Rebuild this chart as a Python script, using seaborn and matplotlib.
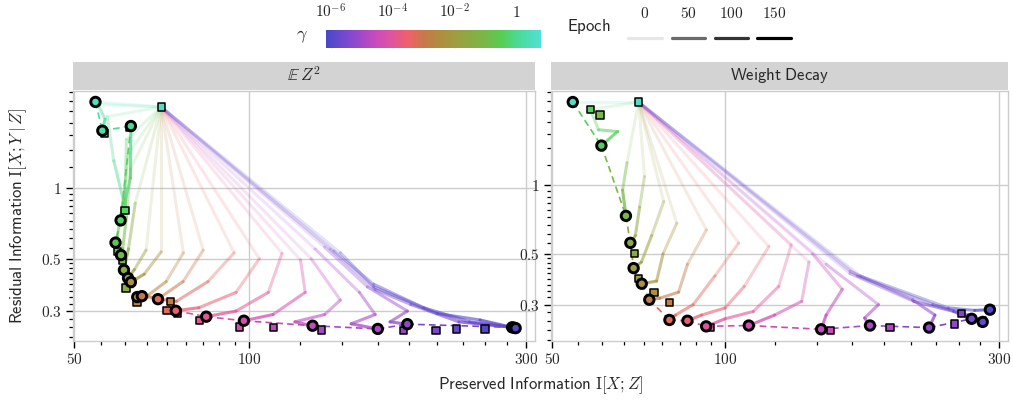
import numpy as np
import matplotlib
matplotlib.use("Agg")
import matplotlib.pyplot as plt
import seaborn as sns
from matplotlib.colors import LinearSegmentedColormap, Normalize, LogNorm
from matplotlib.ticker import FixedLocator, FixedFormatter, NullFormatter
from matplotlib.patches import Rectangle
from matplotlib.lines import Line2D
import matplotlib.cm as mcm

# ---------------- colour scale for log10(gamma) ----------------
CMAP_POS = [-6.15, -5.5, -5.0, -4.5, -4.0, -3.5, -3.0, -2.5, -2.0, -1.0, -0.5, 0.0, 0.8]
CMAP_COL = ['#4848c8', '#7a48d0', '#a448c8', '#cc4cbc', '#e0559a', '#f0606a',
            '#c8784a', '#b08c40', '#a09c40', '#78b848', '#58cc50', '#4cd890', '#50e0d8']
CBAR_TICKS = [1e-6, 1e-4, 1e-2, 1.0]
CBAR_LABELS = [r'$10^{-6}$', r'$10^{-4}$', r'$10^{-2}$', r'$1$']

EPOCH_LABELS = ['0', '50', '100', '150']
EPOCH_GRAYS = ['#e6e6e6', '#6b6b6b', '#333333', '#000000']

X_MAJOR = [50, 100, 300]
X_LABELS = ['50', '100', '300']
Y_MAJOR = [0.1, 0.3, 0.5, 1, 3]
Y_LABELS = ['0.1', '0.3', '0.5', '1', '3']

# ---------------- panel 1: E Z^2 ----------------
EZ2_GAMMA = [0.55, 0.25, 0.0, -0.35, -0.65, -0.95, -1.35, -1.8, -2.3, -2.7, -3.0,
             -3.3, -3.6, -3.95, -4.3, -4.65, -4.95, -5.25, -5.5, -5.75, -6.0]
EZ2_END_X = [54.4, 55.9, 62.6, 60.1, 58.9, 60.2, 60.9, 61.9, 62.6, 64.2, 65.4,
             69.7, 74.8, 84.4, 98.0, 128.7, 166.7, 187.4, 284.0, 286.3, 288.0]
EZ2_END_Y = [2.31, 1.745, 1.826, 0.727, 0.585, 0.518, 0.448, 0.414, 0.398, 0.344, 0.347,
             0.337, 0.301, 0.284, 0.273, 0.26, 0.252, 0.264, 0.256, 0.255, 0.254]
EZ2_SQ_X = [70.6, 56.4, 62.3, 61.2, 59.3, 60.6, 61.4, 62.0, 62.8, 64.1, 73.2,
            72.2, 75.4, 82.2, 96.3, 110.3, 133.3, 184.8, 210.0, 228.0, 255.0]
EZ2_SQ_Y = [2.20, 1.70, 1.80, 0.799, 0.535, 0.494, 0.376, 0.41, 0.40, 0.327, 0.329,
            0.301, 0.294, 0.273, 0.257, 0.256, 0.249, 0.248, 0.248, 0.252, 0.252]
EZ2_PATH_X = [
    [70.6, 54.4],
    [70.6, 55.0, 56.5, 55.9],
    [70.6, 57.0, 58.5, 61.0, 62.5, 62.6],
    [70.6, 61.5, 61.2, 61.3, 60.1],
    [70.6, 62.0, 60.8, 59.3, 58.9],
    [70.6, 62.5, 61.5, 60.6, 60.2],
    [70.6, 63.7, 62.0, 60.9],
    [70.6, 66.5, 63.5, 61.9],
    [70.6, 70.6, 66.0, 62.6],
    [70.6, 77.1, 72.0, 67.0, 64.2],
    [70.6, 83.4, 77.0, 70.0, 65.4],
    [70.6, 94.3, 85.0, 75.0, 69.7],
    [70.6, 104.2, 95.0, 82.0, 74.8],
    [70.6, 114.0, 108.0, 95.0, 84.4],
    [70.6, 122.7, 125.0, 110.0, 98.0],
    [70.6, 128.0, 143.7, 135.0, 120.0, 128.7],
    [70.6, 130.0, 155.0, 165.0, 150.0, 166.7],
    [70.6, 135.0, 160.0, 187.5, 175.0, 187.4],
    [70.6, 138.0, 165.0, 190.0, 230.0, 284.0],
    [70.6, 140.0, 164.0, 200.0, 240.0, 286.3],
    [70.6, 143.7, 164.0, 211.0, 250.0, 288.0],
]
EZ2_PATH_Y = [
    [2.20, 2.31],
    [2.20, 2.25, 1.95, 1.745],
    [2.20, 2.0, 1.3, 0.85, 1.1, 1.826],
    [2.20, 1.6, 1.0, 0.82, 0.727],
    [2.20, 1.4, 0.9, 0.62, 0.585],
    [2.20, 1.2, 0.75, 0.55, 0.518],
    [2.20, 0.86, 0.55, 0.448],
    [2.20, 0.544, 0.45, 0.414],
    [2.20, 0.535, 0.43, 0.398],
    [2.20, 0.53, 0.40, 0.35, 0.344],
    [2.20, 0.544, 0.40, 0.34, 0.347],
    [2.20, 0.53, 0.40, 0.33, 0.337],
    [2.20, 0.50, 0.36, 0.31, 0.301],
    [2.20, 0.527, 0.36, 0.30, 0.284],
    [2.20, 0.494, 0.36, 0.29, 0.273],
    [2.20, 0.50, 0.334, 0.29, 0.27, 0.26],
    [2.20, 0.55, 0.36, 0.29, 0.265, 0.252],
    [2.20, 0.56, 0.38, 0.30, 0.27, 0.264],
    [2.20, 0.55, 0.37, 0.32, 0.27, 0.256],
    [2.20, 0.54, 0.39, 0.31, 0.27, 0.255],
    [2.20, 0.53, 0.38, 0.293, 0.275, 0.254],
]

# ---------------- panel 2: Weight Decay ----------------
WD_GAMMA = [0.55, -0.4, -1.0, -1.5, -1.9, -2.4, -2.9, -3.3, -3.6, -4.0, -4.35,
            -4.6, -4.9, -5.2, -5.5, -5.75, -6.0]
WD_END_X = [54.3, 60.9, 67.2, 68.4, 69.3, 71.6, 73.8, 80.0, 86.0, 92.7, 110.0,
            147.0, 178.8, 226.6, 268.8, 281.0, 289.2]
WD_END_Y = [2.30, 1.484, 0.732, 0.558, 0.433, 0.37, 0.315, 0.257, 0.255, 0.241, 0.243,
            0.234, 0.243, 0.238, 0.26, 0.252, 0.285]
WD_SQ_X = [70.7, 58.3, 60.6, 69.5, 70.7, 75.2, 80.1, 80.0, 86.0, 94.1, 110.0,
           152.6, 193.7, 251.0, 258.3, 281.0, 289.2]
WD_SQ_Y = [2.30, 2.13, 2.02, 0.50, 0.389, 0.339, 0.307, 0.257, 0.255, 0.238, 0.243,
           0.231, 0.239, 0.247, 0.275, 0.252, 0.285]
WD_PATH_X = [
    [70.7, 54.3],
    [70.7, 58.3, 60.2, 65.0, 60.9],
    [70.7, 67.5, 66.3, 67.2],
    [70.7, 72.4, 71.0, 69.8, 68.4],
    [70.7, 78.2, 74.5, 71.5, 69.3],
    [70.7, 82.4, 78.0, 76.0, 71.6],
    [70.7, 92.8, 86.0, 83.0, 77.0, 73.8],
    [70.7, 105.6, 96.0, 88.0, 82.0, 80.0],
    [70.7, 119.2, 108.0, 100.0, 91.0, 86.0],
    [70.7, 130.4, 124.0, 112.0, 100.0, 92.7],
    [70.7, 140.0, 136.0, 122.0, 110.0],
    [70.7, 142.0, 160.0, 150.0, 147.0],
    [70.7, 150.0, 185.0, 175.0, 178.8],
    [70.7, 165.0, 212.0, 232.0, 226.6],
    [70.7, 165.0, 213.0, 250.0, 268.8],
    [70.7, 170.0, 230.0, 265.0, 281.0],
    [70.7, 172.0, 245.0, 272.0, 289.2],
]
WD_PATH_Y = [
    [2.30, 2.30],
    [2.30, 2.13, 1.74, 1.71, 1.484],
    [2.30, 1.25, 0.95, 0.732],
    [2.30, 1.087, 0.8, 0.6, 0.558],
    [2.30, 0.846, 0.6, 0.46, 0.433],
    [2.30, 0.68, 0.5, 0.38, 0.37],
    [2.30, 0.636, 0.45, 0.34, 0.32, 0.315],
    [2.30, 0.557, 0.40, 0.30, 0.27, 0.257],
    [2.30, 0.538, 0.36, 0.29, 0.27, 0.255],
    [2.30, 0.547, 0.36, 0.28, 0.26, 0.241],
    [2.30, 0.46, 0.31, 0.27, 0.243],
    [2.30, 0.50, 0.35, 0.27, 0.234],
    [2.30, 0.45, 0.30, 0.262, 0.243],
    [2.30, 0.42, 0.315, 0.27, 0.238],
    [2.30, 0.41, 0.31, 0.28, 0.26],
    [2.30, 0.40, 0.30, 0.27, 0.252],
    [2.30, 0.40, 0.29, 0.283, 0.285],
]

# ---------------- style ----------------
sns.set_theme(style="whitegrid")
plt.rcParams['font.family'] = ['DejaVu Sans']
plt.rcParams['mathtext.fontset'] = 'cm'

VMIN, VMAX = CMAP_POS[0], CMAP_POS[-1]
cmap = LinearSegmentedColormap.from_list(
    'gamma', [((p - VMIN) / (VMAX - VMIN), c) for p, c in zip(CMAP_POS, CMAP_COL)])
norm = Normalize(VMIN, VMAX)

W, H = 1013, 400
fig = plt.figure(figsize=(W / 100, H / 100), dpi=100)
ax1 = fig.add_axes([72.7 / W, 59 / H, 462.3 / W, 250 / H])
ax2 = fig.add_axes([550.7 / W, 59 / H, 457.3 / W, 250 / H])


def minor_between(majors):
    out = []
    for a, b in zip(majors[:-1], majors[1:]):
        out.extend(np.linspace(a, b, 10)[1:-1])
    return out


def draw_panel(ax, gam, pxs, pys, ex, ey, sx, sy, ylim, title):
    ax.set_xscale('log')
    ax.set_yscale('log')
    # trajectories: early epochs faint, late epochs strong
    for g, xs, ys in zip(gam, pxs, pys):
        col = cmap(norm(g))
        n = len(xs) - 1
        for j in range(n):
            a = 0.15 + 0.6 * (j / max(n - 1, 1))
            sns.lineplot(x=xs[j:j + 2], y=ys[j:j + 2], ax=ax, color=col, alpha=a,
                         lw=2.2, sort=False, estimator=None, legend=False, zorder=2)
    # dashed line through final points, ordered by gamma
    order = np.argsort(gam)[::-1]
    for a_i, b_i in zip(order[:-1], order[1:]):
        sns.lineplot(x=[ex[a_i], ex[b_i]], y=[ey[a_i], ey[b_i]], ax=ax,
                     color=cmap(norm(gam[b_i])), lw=1.2, linestyle=(0, (4, 2.5)),
                     sort=False, estimator=None, legend=False, zorder=3)
    sns.scatterplot(x=sx, y=sy, hue=gam, palette=cmap, hue_norm=norm, marker='s',
                    s=28, edgecolor='black', linewidth=1.1, legend=False, ax=ax, zorder=4)
    sns.scatterplot(x=ex, y=ey, hue=gam, palette=cmap, hue_norm=norm, marker='o',
                    s=46, edgecolor='black', linewidth=2.1, legend=False, ax=ax, zorder=5)

    ax.set_xlim(49.7, 311)
    ax.set_ylim(*ylim)
    ax.xaxis.set_major_locator(FixedLocator(X_MAJOR))
    ax.xaxis.set_major_formatter(FixedFormatter([r'$\mathsf{%s}$' % t for t in X_LABELS]))
    ax.xaxis.set_minor_locator(FixedLocator(minor_between([30] + X_MAJOR + [500])))
    ax.xaxis.set_minor_formatter(NullFormatter())
    ax.yaxis.set_major_locator(FixedLocator(Y_MAJOR))
    ax.yaxis.set_major_formatter(FixedFormatter([r'$%s$' % t for t in Y_LABELS]))
    ax.yaxis.set_minor_locator(FixedLocator(minor_between(Y_MAJOR)))
    ax.yaxis.set_minor_formatter(NullFormatter())
    ax.grid(True, which='major', color='#cccccc', lw=1.0)
    ax.grid(False, which='minor')
    for sp in ax.spines.values():
        sp.set_color('#cccccc')
        sp.set_linewidth(1.0)
    ax.tick_params(which='major', direction='out', length=5, width=1.0, color='black',
                   labelsize=11, pad=3, left=True, bottom=True)
    ax.tick_params(which='minor', direction='out', length=3, width=0.9, color='black',
                   left=True, bottom=True)
    ax.set_xlabel('')
    ax.set_ylabel('')
    ax.add_patch(Rectangle((0, 1.006), 1, 0.11, transform=ax.transAxes, clip_on=False,
                           facecolor='#d3d3d3', edgecolor='none'))
    ax.text(0.5, 1.061, title, transform=ax.transAxes, ha='center', va='center',
            fontsize=12)


draw_panel(ax1, EZ2_GAMMA, EZ2_PATH_X, EZ2_PATH_Y, EZ2_END_X, EZ2_END_Y,
           EZ2_SQ_X, EZ2_SQ_Y, (0.224, 2.57), r'$\mathbb{E}\,Z^2$')
draw_panel(ax2, WD_GAMMA, WD_PATH_X, WD_PATH_Y, WD_END_X, WD_END_Y,
           WD_SQ_X, WD_SQ_Y, (0.208, 2.57), r'$\mathsf{Weight\ Decay}$')

fig.text(18 / W, 1 - 216 / H, r'$\mathsf{Residual\ Information}\ \mathrm{I}[X;Y\mid Z]$',
         rotation=90, ha='center', va='center', fontsize=12)
fig.text(541 / W, 1 - 385 / H, r'$\mathsf{Preserved\ Information}\ \mathrm{I}[X;Z]$',
         ha='center', va='center', fontsize=12)

# ---------------- gamma colour bar ----------------
cax = fig.add_axes([326 / W, 1 - 47.7 / H, 214.7 / W, 17.7 / H])
sm = mcm.ScalarMappable(norm=LogNorm(10 ** VMIN, 10 ** VMAX), cmap=cmap)
cb = fig.colorbar(sm, cax=cax, orientation='horizontal')
cb.outline.set_visible(False)
cax.xaxis.set_major_locator(FixedLocator(CBAR_TICKS))
cax.xaxis.set_major_formatter(FixedFormatter(CBAR_LABELS))
cax.xaxis.set_minor_locator(FixedLocator([]))
cax.tick_params(axis='x', which='major', top=True, bottom=True, labeltop=True,
                labelbottom=False, direction='in', length=3, width=1.0,
                color='#dddddd', labelsize=11, pad=7)
fig.text(302 / W, 1 - 36 / H, r'$\gamma$', ha='center', va='center', fontsize=13)

# ---------------- epoch legend ----------------
fig.text(589 / W, 1 - 26 / H, r'$\mathsf{Epoch}$', ha='center', va='center', fontsize=12)
seg_x = [(628, 662), (672, 705), (715, 748), (757, 791)]
for (x0, x1), lab, gcol in zip(seg_x, EPOCH_LABELS, EPOCH_GRAYS):
    fig.add_artist(Line2D([x0 / W, x1 / W], [1 - 38.3 / H] * 2, color=gcol, lw=2.3,
                          transform=fig.transFigure))
    fig.text((x0 + x1) / 2 / W, 1 - 13 / H, r'$%s$' % lab, ha='center', va='center',
             fontsize=11)

fig.savefig('out.png', dpi=100)
